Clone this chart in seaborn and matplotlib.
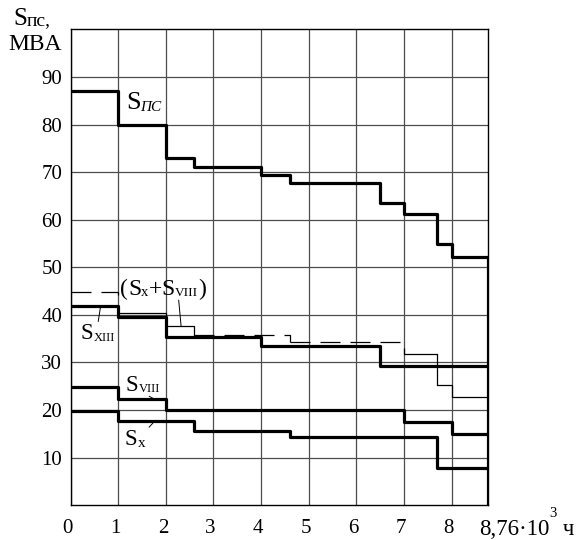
import matplotlib
matplotlib.use('Agg')
import matplotlib.pyplot as plt
import matplotlib.transforms as mtransforms
import seaborn as sns

# ===================== 数据 =====================
X_MAX = 8.76

# S_пс — ступенчатый график нагрузки подстанции
x_pc = [0, 1, 2, 2.6, 4, 4.6, 6.5, 7, 7.7, 8, X_MAX]
s_pc = [87, 80, 73, 71.1, 69.4, 67.8, 63.6, 61.2, 54.9, 52.2]

# S_XIII
x_xiii = [0, 1, 2, 4, 6.5, X_MAX]
s_xiii = [41.8, 39.6, 35.3, 33.5, 29.2]

# S_VIII
x_viii = [0, 1, 2, 7, 8, X_MAX]
s_viii = [24.9, 22.4, 20.0, 17.4, 14.9]

# S_X
x_x = [0, 1, 2.6, 4.6, 7.7, X_MAX]
s_x = [19.8, 17.7, 15.7, 14.4, 7.8]

# (S_X + S_VIII) — тонкая линия, частично штриховая
x_sum = [0, 1, 2, 2.6, 4.6, 7, 7.7, 8, X_MAX]
s_sum = [44.7, 40.4, 37.7, 35.8, 34.3, 31.8, 25.3, 22.7]
sum_dashed = [True, False, False, True, True, False, False, False]

x_ticks = [0, 1, 2, 3, 4, 5, 6, 7, 8]
y_ticks = [10, 20, 30, 40, 50, 60, 70, 80, 90]

# ===================== 样式 =====================
sns.set_theme(style='white', rc={
    'axes.edgecolor': 'black', 'text.color': 'black',
    'xtick.color': 'black', 'ytick.color': 'black',
})
plt.rcParams['font.family'] = ['Liberation Serif', 'DejaVu Serif']

fig = plt.figure(figsize=(5.82, 5.40), dpi=100)
ax = fig.add_axes([0.1213, 0.0644, 0.7167, 0.8813])


def steps(edges, vals):
    return list(edges), list(vals) + [vals[-1]]


def rich_text(ax, x, y, parts, trans):
    # части текста: (текст, размер, сдвиг по вертикали в pt, стиль)
    text, size, dy, style = parts[0]
    prev = ax.text(x, y, text, fontsize=size, fontstyle=style,
                   ha='left', va='baseline', transform=trans)
    for text, size, dy, style in parts[1:]:
        prev = ax.annotate(text, xy=(1, y), xycoords=(prev, trans),
                           xytext=(0, dy), textcoords='offset points',
                           fontsize=size, fontstyle=style,
                           ha='left', va='baseline')
    return prev


THICK = 2.3
THIN = 0.9

# толстые ступенчатые линии
xs, ys = steps(x_pc, s_pc)
sns.lineplot(x=xs + [X_MAX], y=ys + [0], estimator=None, sort=False,
             drawstyle='steps-post', color='black', lw=THICK, ax=ax)
for ex, vals in [(x_xiii, s_xiii), (x_viii, s_viii), (x_x, s_x)]:
    xs, ys = steps(ex, vals)
    sns.lineplot(x=xs, y=ys, estimator=None, sort=False,
                 drawstyle='steps-post', color='black', lw=THICK, ax=ax)

# тонкая линия суммы
for i, v in enumerate(s_sum):
    xs = [x_sum[i], x_sum[i + 1]]
    ys = [v, v]
    if i + 1 < len(s_sum):
        xs.append(x_sum[i + 1])
        ys.append(s_sum[i + 1])
    ls = (0, (16, 8)) if sum_dashed[i] else '-'
    sns.lineplot(x=xs, y=ys, estimator=None, sort=False, color='black',
                 lw=THIN, linestyle=ls, ax=ax)

# оси и сетка
ax.set_xlim(0, X_MAX)
ax.set_ylim(0, 100)
ax.set_xticks(x_ticks)
ax.set_yticks(y_ticks)
ax.set_xticklabels([str(t) for t in x_ticks])
ax.set_yticklabels([str(t) for t in y_ticks])
ax.tick_params(length=0, labelsize=15, colors='black')
ax.tick_params(axis='x', pad=10)
ax.tick_params(axis='y', pad=6)
ax.grid(True, color='0.3', lw=0.9)
ax.set_axisbelow(True)
for sp in ax.spines.values():
    sp.set_color('black')
    sp.set_linewidth(1.0)
ax.set_xlabel('')
ax.set_ylabel('')
shift = mtransforms.ScaledTranslation(-2 / 72, 0, fig.dpi_scale_trans)
for lbl in ax.get_xticklabels():
    lbl.set_transform(lbl.get_transform() + shift)

# подпись последнего деления
bt = mtransforms.blended_transform_factory(ax.transData, fig.transFigure)
rich_text(ax, 8.58, 0.0093,
          [('8,76·10', 16.5, 0, 'normal'), ('3', 10.5, 13, 'normal'),
           (' ч', 16.5, 0, 'normal')], bt)

# подпись оси Y
rich_text(ax, 0.0223, 0.9537,
          [('S', 18, 0, 'normal'), ('пс,', 14, 0, 'normal')], fig.transFigure)
ax.text(0.0137, 0.9074, 'MBA', fontsize=17, ha='left', va='baseline',
        transform=fig.transFigure)

# подписи кривых
td = ax.transData
rich_text(ax, 1.16, 83.2, [('S', 19, 0, 'normal'), ('ПС', 11, -1, 'italic')], td)
rich_text(ax, 1.04, 44.2,
          [('(', 17, 0, 'normal'), ('S', 17, 0, 'normal'),
           ('x', 10.5, -1, 'normal'), ('+', 17, 0, 'normal'),
           ('S', 17, 0, 'normal'), ('VIII', 9.5, -1, 'normal'),
           (')', 17, 0, 'normal')], td)
rich_text(ax, 0.21, 34.9, [('S', 16.5, 0, 'normal'), ('XIII', 9, -1, 'normal')], td)
rich_text(ax, 1.16, 24.1, [('S', 16.5, 0, 'normal'), ('VIII', 9, -1, 'normal')], td)
rich_text(ax, 1.14, 12.7, [('S', 16.5, 0, 'normal'), ('x', 11, -1.5, 'normal')], td)

# выноски
leaders = [((2.27, 43.1), (2.32, 37.7)),
           ((0.58, 38.6), (0.63, 41.8)),
           ((1.65, 22.9), (1.74, 22.4)),
           ((1.65, 16.4), (1.74, 17.4))]
for start, end in leaders:
    ax.annotate('', xy=end, xytext=start,
                arrowprops=dict(arrowstyle='-', lw=0.7, color='black',
                                shrinkA=0, shrinkB=0))

fig.savefig('out.png', dpi=100)
